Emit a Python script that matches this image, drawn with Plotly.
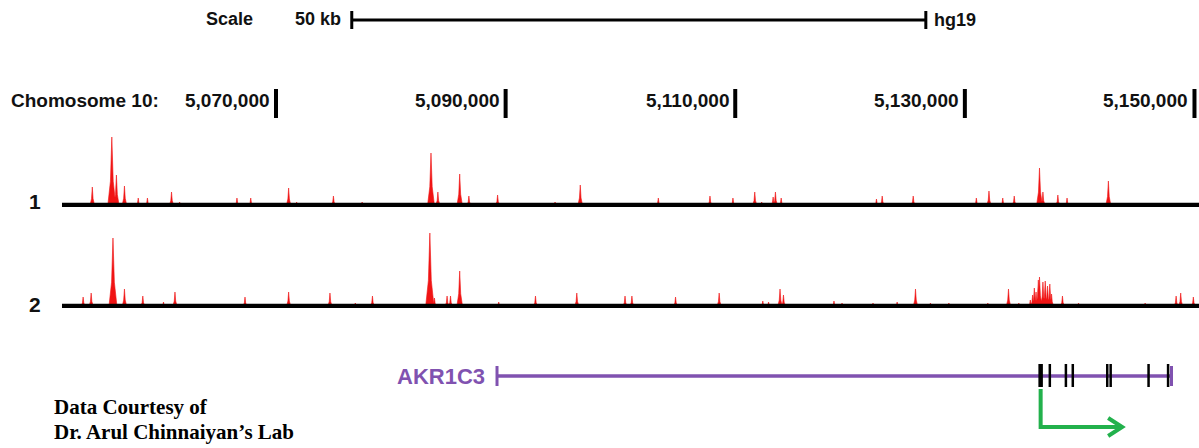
import plotly.graph_objects as go

# ---------------- data ----------------
chrom_label = "Chomosome 10:"
chrom_ticks = [5070000, 5090000, 5110000, 5130000, 5150000]
chrom_tick_text = ["5,070,000", "5,090,000", "5,110,000", "5,130,000", "5,150,000"]

scale_start = 5076600
scale_len = 50000
scale_text = "50 kb"
assembly = "hg19"

view_start = 5051360

track_names = ["1", "2"]
t1_pos = [5054000, 5055700, 5056100, 5056800, 5058000, 5058800, 5060900, 5061600, 5066600, 5067800,
          5071100, 5071800, 5075000, 5077500, 5083500, 5084100, 5086000, 5086800, 5089300, 5094300,
          5096500, 5099400, 5103300, 5105600, 5107800, 5109800, 5111700, 5112300, 5113300, 5113500,
          5114000, 5119600, 5122300, 5122800, 5125500, 5131000, 5132100, 5133300, 5134300, 5136500,
          5136800, 5138100, 5138900, 5142500, 5144400, 5147900]
t1_val = [18, 68, 30, 19, 7, 7, 13, 3, 7, 7,
          17, 3, 9, 3, 52, 13, 31, 9, 10, 3,
          20, 2, 7, 2, 9, 7, 13, 3, 8, 13,
          7, 2, 6, 9, 9, 7, 14, 7, 9, 37,
          13, 10, 7, 24, 2, 2]
t2_pos = [5053200, 5053900, 5055800, 5056800, 5058400, 5060200, 5061200, 5067300, 5071100, 5074700,
          5076900, 5078400, 5083400, 5083800, 5084900, 5085200, 5086000, 5089400, 5092600, 5096200,
          5100400, 5101000, 5104800, 5108600, 5112400, 5112900, 5113900, 5114200, 5118600, 5119300,
          5122000, 5124100, 5125700, 5127000, 5128600, 5132000, 5133800, 5134700, 5135700, 5135900,
          5136050, 5136200, 5136400, 5136500, 5136800, 5137000, 5137200, 5137400, 5137550, 5138500,
          5139900, 5145700, 5148400, 5148800, 5149900]
t2_val = [9, 13, 68, 17, 10, 4, 14, 9, 14, 13,
          3, 10, 73, 8, 10, 10, 35, 4, 10, 13,
          10, 10, 9, 13, 5, 4, 17, 11, 5, 3,
          3, 4, 17, 3, 3, 3, 17, 3, 6, 11,
          18, 14, 26, 29, 24, 25, 20, 22, 12, 10,
          3, 3, 10, 13, 9]

gene_name = "AKR1C3"
gene_start = 5089250
gene_end = 5148000
exons = [5136600, 5137400, 5138800, 5139400, 5142400, 5142700, 5146000, 5147700]
tss = 5136600
arrow_end = 5143700

credit_lines = ["Data Courtesy of", "Dr. Arul Chinnaiyan\u2019s Lab"]

# ---------------- layout helpers ----------------
W, H = 1199, 448
BP_PER_PX = 87.1
x_lo = chrom_ticks[0] - 276 * BP_PER_PX
x_hi = x_lo + W * BP_PER_PX


def py(px):
    return 1 - px / H


def dx(px):
    return px * BP_PER_PX


SANS = "Liberation Sans, Arial, sans-serif"
SERIF = "Liberation Serif, Times New Roman, serif"
RED = "#f01414"
PURPLE = "#8052b0"
GREEN = "#22b14c"
INK = "#111111"

fig = go.Figure()


def peak_xy(pos, val):
    xs, ys = [], []
    for p, h in zip(pos, val):
        hw = dx(1.6 + 0.035 * h)
        xs += [p - hw, p - hw * 0.35, p, p + hw * 0.35, p + hw, None]
        ys += [0, h * 0.35, h, h * 0.35, 0, None]
    return xs, ys


for i, (pos, val) in enumerate([(t1_pos, t1_val), (t2_pos, t2_val)]):
    ya = "y" if i == 0 else "y2"
    xs, ys = peak_xy(pos, val)
    fig.add_trace(go.Scatter(x=xs, y=ys, mode="lines", fill="toself", fillcolor=RED,
                             line=dict(color=RED, width=0.6), yaxis=ya, hoverinfo="skip",
                             showlegend=False))
    fig.add_trace(go.Scatter(x=[view_start, x_hi], y=[0, 0], mode="lines",
                             line=dict(color="black", width=4.5), yaxis=ya, hoverinfo="skip",
                             showlegend=False))

shapes = []
ann = []

# scale bar
s0, s1 = scale_start, scale_start + scale_len
shapes.append(dict(type="line", xref="x", yref="paper", x0=s0, x1=s1, y0=py(20), y1=py(20),
                   line=dict(color="black", width=3)))
for s in (s0, s1):
    shapes.append(dict(type="line", xref="x", yref="paper", x0=s, x1=s, y0=py(11), y1=py(29),
                       line=dict(color="black", width=3)))
ann.append(dict(x=s0 - dx(97), y=py(19), xref="x", yref="paper", text="<b>Scale</b>", showarrow=False,
                xanchor="right", yanchor="middle", font=dict(family=SANS, size=18, color=INK)))
ann.append(dict(x=s0 - dx(9), y=py(19), xref="x", yref="paper", text="<b>" + scale_text + "</b>",
                showarrow=False, xanchor="right", yanchor="middle",
                font=dict(family=SANS, size=18, color=INK)))
ann.append(dict(x=s1 + dx(6), y=py(20), xref="x", yref="paper", text="<b>" + assembly + "</b>",
                showarrow=False, xanchor="left", yanchor="middle",
                font=dict(family=SANS, size=18, color=INK)))

# chromosome ruler
ann.append(dict(x=x_lo + dx(9), y=py(100), xref="x", yref="paper", text="<b>" + chrom_label + "</b>",
                showarrow=False, xanchor="left", yanchor="middle",
                font=dict(family=SANS, size=19, color=INK)))
for t, lab in zip(chrom_ticks, chrom_tick_text):
    shapes.append(dict(type="line", xref="x", yref="paper", x0=t, x1=t, y0=py(89), y1=py(118),
                       line=dict(color="black", width=4)))
    ann.append(dict(x=t - dx(4), y=py(100), xref="x", yref="paper", text="<b>" + lab + "</b>",
                    showarrow=False, xanchor="right", yanchor="middle",
                    font=dict(family=SANS, size=19, color=INK)))

# track labels
for name, ypx in zip(track_names, [201, 304]):
    ann.append(dict(x=x_lo + dx(35), y=py(ypx), xref="x", yref="paper", text="<b>" + name + "</b>",
                    showarrow=False, xanchor="center", yanchor="middle",
                    font=dict(family=SANS, size=21, color=INK)))

# gene model
shapes.append(dict(type="line", xref="x", yref="paper", x0=gene_start, x1=gene_end, y0=py(376), y1=py(376),
                   line=dict(color=PURPLE, width=3.5)))
for g in (gene_start, gene_end):
    shapes.append(dict(type="line", xref="x", yref="paper", x0=g, x1=g, y0=py(366), y1=py(386),
                       line=dict(color=PURPLE, width=3)))
for k, e in enumerate(exons):
    shapes.append(dict(type="line", xref="x", yref="paper", x0=e, x1=e, y0=py(364), y1=py(387),
                       line=dict(color="black", width=4.5 if k == 0 else 2.5)))
ann.append(dict(x=gene_start - dx(10), y=py(376), xref="x", yref="paper", text="<b>" + gene_name + "</b>",
                showarrow=False, xanchor="right", yanchor="middle",
                font=dict(family=SANS, size=22, color=PURPLE)))

# TSS arrow
path = "M {a},{b} L {a},{c} L {d},{c}".format(a=tss, b=py(389), c=py(427), d=arrow_end)
shapes.append(dict(type="path", xref="x", yref="paper", path=path,
                   line=dict(color=GREEN, width=4)))
chev = "M {a},{b} L {c},{d} L {a},{e}".format(a=arrow_end - dx(14), b=py(418), c=arrow_end,
                                               d=py(427), e=py(436))
shapes.append(dict(type="path", xref="x", yref="paper", path=chev,
                   line=dict(color=GREEN, width=4)))

# credit
for line_text, ypx in zip(credit_lines, [407, 432]):
    ann.append(dict(x=x_lo + dx(52), y=py(ypx), xref="x", yref="paper", text="<b>" + line_text + "</b>",
                    showarrow=False, xanchor="left", yanchor="middle",
                    font=dict(family=SERIF, size=21, color="black")))

fig.update_layout(
    width=W, height=H, margin=dict(l=0, r=0, t=0, b=0),
    paper_bgcolor="white", plot_bgcolor="white",
    xaxis=dict(range=[x_lo, x_hi], visible=False, fixedrange=True),
    yaxis=dict(domain=[py(207), py(127)], range=[-2, 78], visible=False, fixedrange=True),
    yaxis2=dict(domain=[py(308), py(228)], range=[-2, 78], visible=False, fixedrange=True),
    shapes=shapes, annotations=ann, showlegend=False,
)

fig.write_html(
    "out.html",
    config={"displayModeBar": False},
    post_script="document.body.style.margin='0';document.body.style.padding='0';"
                "document.body.style.overflow='hidden';",
)
